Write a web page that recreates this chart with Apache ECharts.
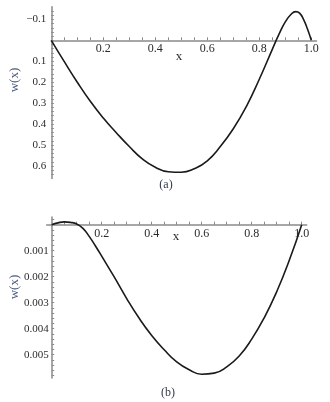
<!DOCTYPE html>
<html>
<head>
<meta charset="utf-8">
<script src="https://cdn.jsdelivr.net/npm/echarts@6/dist/echarts.min.js"></script>
<style>
  html, body { margin: 0; padding: 0; background: #fff; }
  #main { width: 330px; height: 402px; }
</style>
</head>
<body>
<div id="main"></div>
<script>
// panel (a)
var xA = [0, 0.05, 0.10, 0.15, 0.20, 0.25, 0.30, 0.35, 0.40, 0.45, 0.50, 0.55, 0.60, 0.65, 0.70, 0.75, 0.80, 0.85, 0.875, 0.90, 0.925, 0.94, 0.955, 0.97, 0.985, 1.0];
var wA = [0, 0.102, 0.200, 0.291, 0.371, 0.441, 0.507, 0.566, 0.606, 0.627, 0.630, 0.613, 0.575, 0.507, 0.422, 0.316, 0.186, 0.043, -0.027, -0.088, -0.128, -0.137, -0.13, -0.10, -0.055, 0];
// panel (b)
var xB = [0, 0.025, 0.05, 0.075, 0.10, 0.125, 0.15, 0.175, 0.20, 0.25, 0.30, 0.35, 0.40, 0.45, 0.50, 0.55, 0.60, 0.65, 0.70, 0.75, 0.80, 0.85, 0.90, 0.95, 1.0];
var wB = [0, -0.00007, -0.00011, -0.00009, -0.00003, 0.00014, 0.00045, 0.00082, 0.00121, 0.00201, 0.00284, 0.0036, 0.00426, 0.00481, 0.00528, 0.00558, 0.00575, 0.00571, 0.00547, 0.00505, 0.0044, 0.00358, 0.00258, 0.00138, 0];

var xTickLabels = [0.2, 0.4, 0.6, 0.8, 1.0];
var yTickLabelsA = [-0.1, 0.1, 0.2, 0.3, 0.4, 0.5, 0.6];
var yTickLabelsB = [0.001, 0.002, 0.003, 0.004, 0.005];

function steps(from, to, step) {
    var out = [];
    var n = Math.round((to - from) / step);
    for (var i = 0; i <= n; i++) out.push(+(from + i * step).toFixed(6));
    return out;
}

var axisColor = '#8a8a8a';
var labelColor = '#2b2b2b';
var serif = '"Liberation Serif", "DejaVu Serif", serif';

// hidden x axis that only carries the series scale
function plainX(grid, min, max) {
    return { gridIndex: grid, type: 'value', min: min, max: max, show: false };
}
function plainY(grid) {
    return { gridIndex: grid, type: 'value', min: 0, max: 1, show: false };
}

// visible x axis drawn in a thin grid whose bottom edge sits on w = 0
function xAxisCfg(grid, min, max) {
    return {
        gridIndex: grid, type: 'value', min: min, max: max, position: 'bottom',
        axisLine: { onZero: false, lineStyle: { color: axisColor, width: 1.5 } },
        axisTick: { inside: true, length: 3, customValues: steps(0.05, 1.0, 0.05), lineStyle: { color: axisColor } },
        axisLabel: {
            customValues: xTickLabels, margin: 3, color: labelColor, fontFamily: serif, fontSize: 12,
            formatter: function (v) { return v.toFixed(1); }
        },
        splitLine: { show: false }
    };
}

function yAxisCfg(grid, min, max, ticks, labels, margin, fmt) {
    return {
        gridIndex: grid, type: 'value', inverse: true, min: min, max: max,
        axisLine: { onZero: false, lineStyle: { color: axisColor, width: 1.5 } },
        axisTick: { inside: true, length: 2.5, customValues: ticks, lineStyle: { color: axisColor } },
        axisLabel: { customValues: labels, margin: margin, color: labelColor, fontFamily: serif, fontSize: 11, formatter: fmt },
        splitLine: { show: false }
    };
}

var myChart = echarts.init(document.getElementById('main'));
var option = {
    animation: false,
    backgroundColor: '#fff',
    grid: [
        { left: 51.3, top: 6.8, width: 265.2, height: 171.8 },
        { left: 51.7, top: 216.9, width: 255, height: 161.2 },
        { left: 51.3, top: 30.3, width: 265.2, height: 10 },
        { left: 46.7, top: 214.7, width: 260, height: 10 }
    ],
    xAxis: [
        plainX(0, 0, 1.02),
        plainX(1, 0, 1.02),
        xAxisCfg(2, 0, 1.02),
        xAxisCfg(3, -0.02, 1.02)
    ],
    yAxis: [
        yAxisCfg(0, -0.16, 0.66, steps(-0.14, 0.64, 0.02), yTickLabelsA, 5, function (v) {
            return (v < 0 ? '\u2212' : '') + Math.abs(v).toFixed(1);
        }),
        yAxisCfg(1, -0.0003, 0.0059, steps(-0.0002, 0.0058, 0.0002), yTickLabelsB, 3, function (v) {
            return v.toFixed(3);
        }),
        plainY(2),
        plainY(3)
    ],
    series: [
        {
            type: 'line', xAxisIndex: 0, yAxisIndex: 0, smooth: 0.5, symbol: 'none',
            lineStyle: { color: '#1a1a1a', width: 1.6 },
            data: xA.map(function (x, i) { return [x, wA[i]]; })
        },
        {
            type: 'line', xAxisIndex: 1, yAxisIndex: 1, smooth: 0.5, symbol: 'none',
            lineStyle: { color: '#1a1a1a', width: 1.6 },
            data: xB.map(function (x, i) { return [x, wB[i]]; })
        }
    ],
    graphic: [
        { type: 'text', x: 179, y: 57, style: { text: 'x', font: '13px ' + serif, fill: labelColor, align: 'center', verticalAlign: 'middle' } },
        { type: 'text', x: 176, y: 237, style: { text: 'x', font: '13px ' + serif, fill: labelColor, align: 'center', verticalAlign: 'middle' } },
        { type: 'text', x: 15, y: 80, rotation: Math.PI / 2, style: { text: 'w(x)', font: '13px ' + serif, fill: '#4b5a7d', align: 'center', verticalAlign: 'middle' } },
        { type: 'text', x: 15, y: 287, rotation: Math.PI / 2, style: { text: 'w(x)', font: '13px ' + serif, fill: '#4b5a7d', align: 'center', verticalAlign: 'middle' } },
        { type: 'text', x: 166, y: 185, style: { text: '(a)', font: '12px ' + serif, fill: '#333a4a', align: 'center', verticalAlign: 'middle' } },
        { type: 'text', x: 168, y: 393, style: { text: '(b)', font: '12px ' + serif, fill: '#333a4a', align: 'center', verticalAlign: 'middle' } }
    ]
};
myChart.setOption(option);
</script>
</body>
</html>
